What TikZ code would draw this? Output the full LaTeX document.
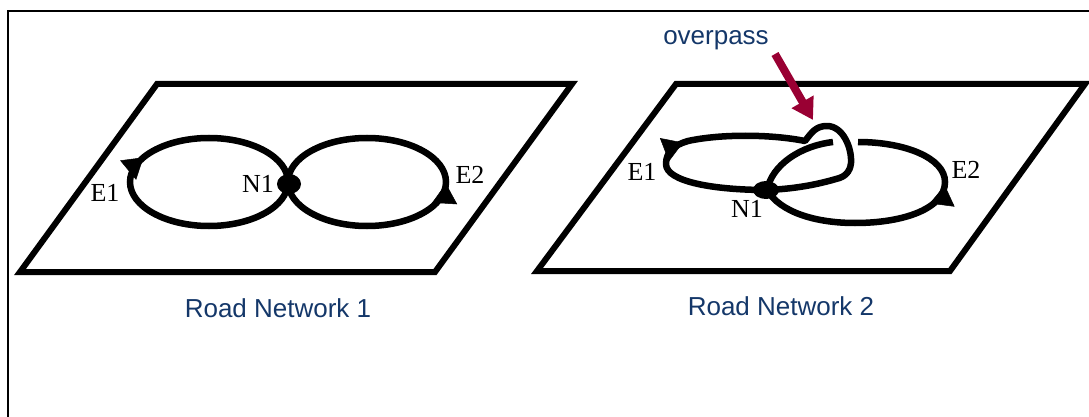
\documentclass[tikz,border=0pt]{standalone}
\usepackage{fontspec}
\setmainfont{Liberation Serif}
\newfontfamily\arialf{Liberation Sans}
\usetikzlibrary{arrows.meta,decorations.markings,shapes.geometric}
\definecolor{navy}{RGB}{20,55,105}
\definecolor{crimson}{RGB}{153,0,51}
\begin{document}
\begin{tikzpicture}[x=1pt,y=-1pt,
  plane/.style={line width=6pt, line join=miter},
  road/.style={line width=6.5pt},
  lbl/.style={font=\fontsize{26}{28}\selectfont, inner sep=0pt},
  capt/.style={font=\arialf\fontsize{26}{28}\selectfont, text=navy, inner sep=0pt},
  dot/.style={ellipse, fill=black, inner sep=0pt, minimum width=24pt, minimum height=20pt},
  tipat/.style={line width=0.5pt, postaction={decorate}, decoration={markings, mark=at position #1 with {\arrow{Triangle[length=20pt, width=25pt]}}}}
]
\useasboundingbox (0,0) rectangle (1089,417);
% frame
\draw[line width=2pt, line join=miter] (1089,11) -- (8,11) -- (8,417);

% ---------- Road Network 1 ----------
\draw[plane] (157,84) -- (572,84) -- (435,272) -- (20,272) -- cycle;
\coordinate (n1a) at (288,182);
\draw[road] (n1a) arc[start angle=0, end angle=360, x radius=79, y radius=44];
\draw[road] (n1a) arc[start angle=180, end angle=-180, x radius=79, y radius=44];
% arrow heads (E1 upward on the left side, E2 upward on the right side)
\path[tipat=1] (130,182) arc[start angle=180, end angle=214, x radius=79, y radius=44];
\path[tipat=1] (435.4,204) arc[start angle=30, end angle=2, x radius=79, y radius=44];
\node[dot] (dotA) at (289,184) {};
\node[lbl] (e1a) at (105,193) {E1};
\node[lbl] (n1alab) at (258,184) {N1};
\node[lbl] (e2a) at (470,175) {E2};
\node[capt] (rn1) at (278,308) {Road Network 1};

% ---------- Road Network 2 ----------
\draw[plane] (676,84) -- (1085,84) -- (950,271) -- (537,271) -- cycle;
\coordinate (n1b) at (767,190);
% E1 loop with overpass hump
\draw[road, line join=round] (n1b) .. controls (715,190) and (666,182) .. (666,164)
  .. controls (666,152) and (674,145) .. (688,141)
  .. controls (720,134) and (770,134) .. (805,141)
  .. controls (812,132) and (816,126) .. (827,126)
  .. controls (843,126) and (852,148) .. (851,163)
  .. controls (850,172) and (845,177) .. (836,179)
  .. controls (812,186) and (790,189) .. (n1b);
\path[tipat=0.85] (666,164) .. controls (666,152) and (674,145) .. (688,141);
% E2 loop, passing under the overpass
\draw[road] (n1b) .. controls (772,165) and (800,146) .. (833,142);
\draw[road] (n1b) .. controls (780,212) and (815,223) .. (855,223)
  .. controls (905,223) and (945,208) .. (945,182)
  .. controls (945,158) and (905,142) .. (858,142);
\path[tipat=0.97] (855,223) .. controls (905,223) and (945,208) .. (945,182);
\node[dot, minimum width=26pt, minimum height=18pt] (dotB) at (766,190) {};
\node[lbl] (e1b) at (642,172) {E1};
\node[lbl] (n1blab) at (747,209) {N1};
\node[lbl] (e2b) at (966,170) {E2};
\node[capt] (rn2) at (781,306) {Road Network 2};

% overpass callout
\node[font=\arialf\fontsize{26}{28}\selectfont, text=navy, inner sep=0pt] (ov) at (716,40) {overpass};
\coordinate (opA) at (775,54);
\coordinate (opB) at (813,120);
\draw[crimson, line width=8pt, -{Triangle[length=21pt, width=24pt]}] (opA) -- (opB);
\end{tikzpicture}
\end{document}
